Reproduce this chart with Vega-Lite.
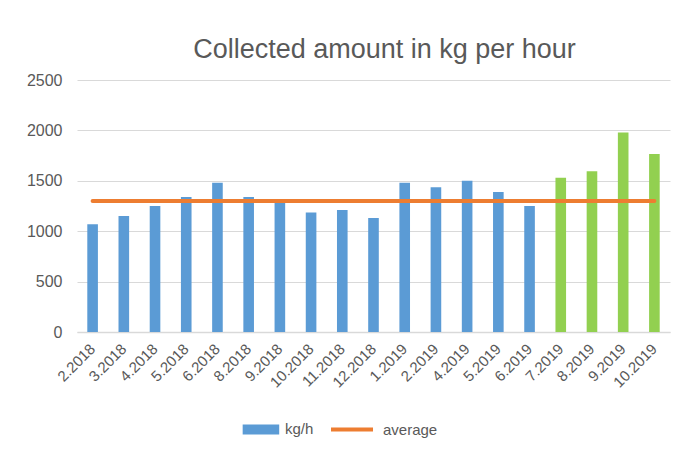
{
  "$schema": "https://vega.github.io/schema/vega-lite/v6.json",
  "width": 593,
  "height": 252,
  "autosize": {"type": "none"},
  "padding": {"left": 77, "top": 80, "right": 11, "bottom": 121},
  "background": "white",
  "title": {
    "text": "Collected amount in kg per hour",
    "font": "Liberation Sans",
    "fontSize": 27,
    "fontWeight": "normal",
    "color": "#595959",
    "anchor": "middle",
    "dx": 11,
    "dy": 33,
    "offset": 20,
    "baseline": "alphabetic"
  },
  "config": {
    "view": {"stroke": null},
    "font": "Liberation Sans"
  },
  "data": {
    "values": [
      {"month": "2.2018", "kgh": 1070, "average": 1300, "group": "kg/h"},
      {"month": "3.2018", "kgh": 1150, "average": 1300, "group": "kg/h"},
      {"month": "4.2018", "kgh": 1250, "average": 1300, "group": "kg/h"},
      {"month": "5.2018", "kgh": 1340, "average": 1300, "group": "kg/h"},
      {"month": "6.2018", "kgh": 1480, "average": 1300, "group": "kg/h"},
      {"month": "8.2018", "kgh": 1340, "average": 1300, "group": "kg/h"},
      {"month": "9.2018", "kgh": 1295, "average": 1300, "group": "kg/h"},
      {"month": "10.2018", "kgh": 1185, "average": 1300, "group": "kg/h"},
      {"month": "11.2018", "kgh": 1210, "average": 1300, "group": "kg/h"},
      {"month": "12.2018", "kgh": 1130, "average": 1300, "group": "kg/h"},
      {"month": "1.2019", "kgh": 1480, "average": 1300, "group": "kg/h"},
      {"month": "2.2019", "kgh": 1435, "average": 1300, "group": "kg/h"},
      {"month": "4.2019", "kgh": 1500, "average": 1300, "group": "kg/h"},
      {"month": "5.2019", "kgh": 1390, "average": 1300, "group": "kg/h"},
      {"month": "6.2019", "kgh": 1250, "average": 1300, "group": "kg/h"},
      {"month": "7.2019", "kgh": 1530, "average": 1300, "group": "recent"},
      {"month": "8.2019", "kgh": 1595, "average": 1300, "group": "recent"},
      {"month": "9.2019", "kgh": 1980, "average": 1300, "group": "recent"},
      {"month": "10.2019", "kgh": 1765, "average": 1300, "group": "recent"}
    ]
  },
  "encoding": {
    "x": {
      "field": "month",
      "type": "nominal",
      "sort": null,
      "scale": {"paddingInner": 0, "paddingOuter": 0},
      "axis": {
        "title": null,
        "labelAngle": -45,
        "labelAlign": "right",
        "labelBaseline": "middle",
        "labelFontSize": 15,
        "labelColor": "#595959",
        "labelPadding": 14,
        "ticks": false,
        "domainColor": "#d9d9d9",
        "domainWidth": 1.5,
        "grid": false
      }
    }
  },
  "layer": [
    {
      "mark": {"type": "bar", "width": {"band": 0.34}},
      "encoding": {
        "y": {
          "field": "kgh",
          "type": "quantitative",
          "scale": {"domain": [0, 2500], "nice": false},
          "axis": {
            "title": null,
            "format": "d",
            "values": [0, 500, 1000, 1500, 2000, 2500],
            "domain": false,
            "ticks": false,
            "labelFontSize": 16,
            "labelColor": "#595959",
            "labelPadding": 15,
            "gridColor": "#d9d9d9",
            "gridWidth": 1.2
          }
        },
        "color": {
          "field": "group",
          "type": "nominal",
          "scale": {
            "domain": ["kg/h", "average", "recent"],
            "range": ["#5B9BD5", "#ED7D31", "#92D050"]
          },
          "legend": {
            "orient": "none",
            "legendX": 159,
            "legendY": 327,
            "direction": "horizontal",
            "title": null,
            "values": ["kg/h", "average"],
            "symbolSize": 1764,
            "labelFontSize": 15,
            "labelColor": "#595959",
            "labelOffset": 5,
            "columnPadding": 14,
            "padding": 0,
            "encode": {
              "symbols": {
                "update": {
                  "shape": {"signal": "datum.value === 'average' ? 'M-1.19,-0.1H0.81V0.1H-1.19Z' : 'M-0.73,-0.24H1.01V0.24H-0.73Z'"},
                  "fill": {"signal": "datum.value === 'average' ? '#ED7D31' : '#5B9BD5'"},
                  "stroke": {"value": "transparent"},
                  "opacity": {"value": 1}
                }
              }
            }
          }
        }
      }
    },
    {
      "mark": {"type": "line", "color": "#ED7D31", "strokeWidth": 4, "strokeCap": "round"},
      "encoding": {
        "y": {"field": "average", "type": "quantitative", "axis": {"title": null}}
      }
    }
  ]
}
